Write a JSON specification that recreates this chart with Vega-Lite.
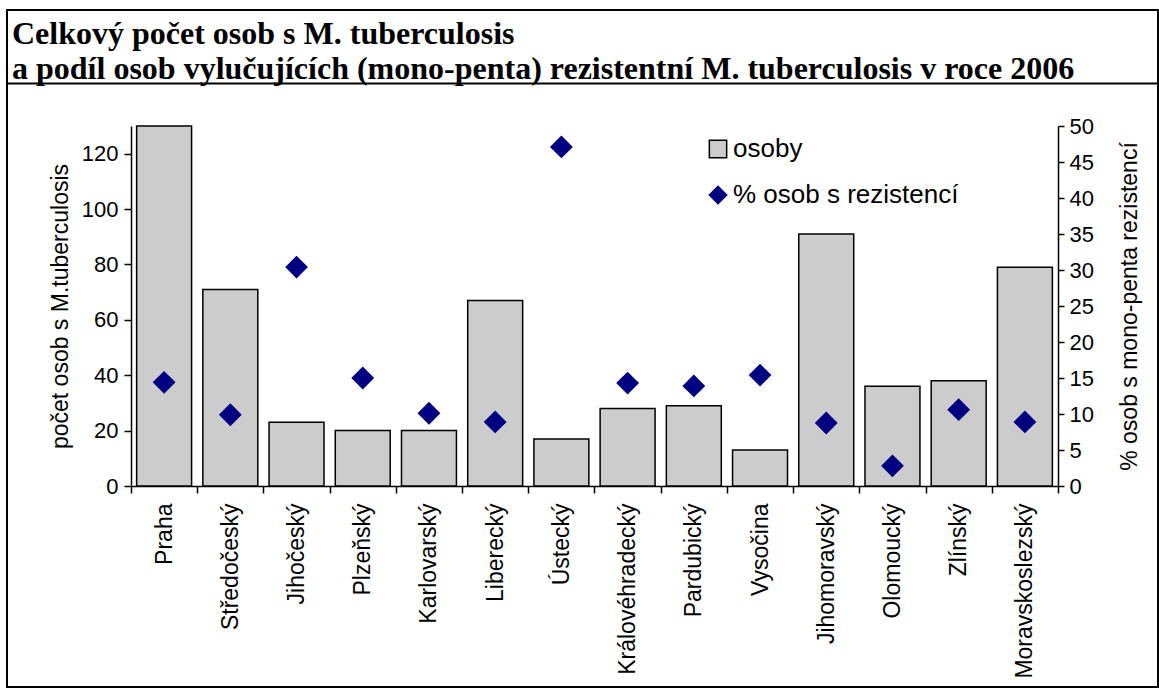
{
  "$schema": "https://vega.github.io/schema/vega-lite/v6.json",
  "width": 1151,
  "height": 677,
  "autosize": {"type": "none"},
  "padding": {"left": 7, "top": 10, "right": 1, "bottom": 1},
  "title": {
    "text": [
      "Celkový počet osob s M. tuberculosis",
      "a podíl osob vylučujících (mono-penta) rezistentní M. tuberculosis v roce 2006"
    ],
    "orient": "top",
    "frame": "group",
    "anchor": "start",
    "baseline": "alphabetic",
    "offset": -30,
    "dx": 5,
    "dy": 71,
    "font": "Liberation Serif",
    "fontSize": 32,
    "fontWeight": "bold",
    "lineHeight": 35,
    "color": "black"
  },
  "config": {
    "view": {"stroke": "black", "strokeWidth": 2},
    "font": "Liberation Sans",
    "axis": {
      "grid": false,
      "domainColor": "black",
      "domainWidth": 1.5,
      "tickColor": "black",
      "tickWidth": 1.5,
      "labelColor": "black",
      "titleColor": "black",
      "labelFont": "Liberation Sans",
      "titleFont": "Liberation Sans",
      "titleFontWeight": "normal"
    }
  },
  "layer": [
    {
      "data": {
        "values": [
          {"kraj": "Praha", "osoby": 130, "pct": 14.4},
          {"kraj": "Středočeský", "osoby": 71, "pct": 9.9},
          {"kraj": "Jihočeský", "osoby": 23, "pct": 30.4},
          {"kraj": "Plzeňský", "osoby": 20, "pct": 15.0},
          {"kraj": "Karlovarský", "osoby": 20, "pct": 10.1},
          {"kraj": "Liberecký", "osoby": 67, "pct": 8.9},
          {"kraj": "Ústecký", "osoby": 17, "pct": 47.1},
          {"kraj": "Královéhradecký", "osoby": 28, "pct": 14.3},
          {"kraj": "Pardubický", "osoby": 29, "pct": 13.9},
          {"kraj": "Vysočina", "osoby": 13, "pct": 15.4},
          {"kraj": "Jihomoravský", "osoby": 91, "pct": 8.75},
          {"kraj": "Olomoucký", "osoby": 36, "pct": 2.8},
          {"kraj": "Zlínský", "osoby": 38, "pct": 10.6},
          {"kraj": "Moravskoslezský", "osoby": 79, "pct": 8.9}
        ]
      },
      "layer": [
        {
          "mark": {"type": "bar", "strokeWidth": 1.5, "width": {"band": 0.83}},
          "encoding": {
            "x": {
              "field": "kraj",
              "type": "nominal",
              "sort": null,
              "scale": {"range": [124, 1051], "paddingInner": 0, "paddingOuter": 0},
              "axis": {
                "orient": "bottom",
                "offset": -201,
                "title": null,
                "labelAngle": -90,
                "labelFontSize": 23,
                "labelPadding": 10,
                "labelLimit": 300,
                "tickSize": 7,
                "tickBand": "extent"
              }
            },
            "y": {
              "field": "osoby",
              "type": "quantitative",
              "scale": {"domain": [0, 130], "range": [476, 116], "nice": false},
              "axis": {
                "orient": "left",
                "offset": -124,
                "values": [0, 20, 40, 60, 80, 100, 120],
                "tickSize": 7,
                "labelFontSize": 22,
                "labelPadding": 6,
                "title": "počet osob s M.tuberculosis",
                "titleFontSize": 23,
                "titlePadding": 9
              }
            },
            "color": {
              "datum": "osoby",
              "type": "nominal",
              "scale": {"domain": ["osoby", "% osob s rezistencí"], "range": ["#cccccc", "#000080"]},
              "legend": {
                "orient": "none",
                "legendX": 698,
                "legendY": 126,
                "padding": 0,
                "title": null,
                "labelFontSize": 26,
                "labelColor": "black",
                "labelOffset": 2,
                "labelLimit": 400,
                "rowPadding": 20,
                "symbolSize": 300,
                "symbolStrokeWidth": 1.5,
                "symbolOpacity": 1
              }
            },
            "stroke": {
              "datum": "osoby",
              "type": "nominal",
              "scale": {"domain": ["osoby", "% osob s rezistencí"], "range": ["black", "#000080"]}
            }
          }
        },
        {
          "mark": {"type": "point", "filled": true, "size": 400, "opacity": 1},
          "encoding": {
            "x": {"field": "kraj", "type": "nominal", "sort": null},
            "y": {
              "field": "pct",
              "type": "quantitative",
              "scale": {"domain": [0, 50], "range": [476, 116], "nice": false},
              "axis": {
                "orient": "right",
                "offset": -100,
                "values": [0, 5, 10, 15, 20, 25, 30, 35, 40, 45, 50],
                "tickSize": 6,
                "labelFontSize": 22,
                "labelPadding": 5,
                "title": "% osob s mono-penta rezistencí",
                "titleAngle": -90,
                "titleBaseline": "top",
                "titleFontSize": 23,
                "titlePadding": 25
              }
            },
            "color": {"datum": "% osob s rezistencí", "type": "nominal"},
            "stroke": {"datum": "% osob s rezistencí", "type": "nominal"},
            "shape": {
              "datum": "% osob s rezistencí",
              "type": "nominal",
              "scale": {"domain": ["osoby", "% osob s rezistencí"], "range": ["square", "diamond"]}
            }
          }
        }
      ],
      "resolve": {"scale": {"y": "independent"}}
    },
    {
      "data": {"values": [{"sep": 0}]},
      "mark": {"type": "point", "opacity": 0},
      "encoding": {
        "x": {
          "field": "sep",
          "type": "quantitative",
          "scale": {"domain": [0, 1], "range": [0, 1151]},
          "axis": {
            "orient": "top",
            "offset": -73,
            "ticks": false,
            "labels": false,
            "title": null,
            "domainWidth": 2
          }
        }
      }
    }
  ],
  "resolve": {"scale": {"x": "independent"}}
}
